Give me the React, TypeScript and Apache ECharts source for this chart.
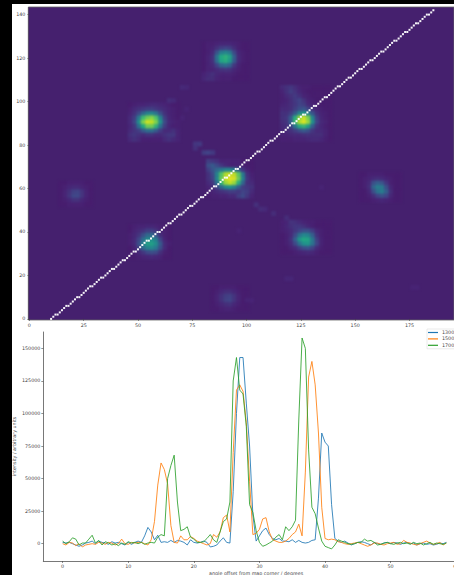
import React, { useEffect, useRef } from "react";
import * as echarts from "echarts";

// ---------- line chart data (thousands of arbitrary units) ----------
const angles = [0,0.5,1,1.5,2,2.5,3,3.5,4,4.5,5,5.5,6,6.5,7,7.5,8,8.5,9,9.5,10,10.5,11,11.5,12,12.5,13,13.5,14,14.5,15,15.5,16,16.5,17,17.5,18,18.5,19,19.5,20,20.5,21,21.5,22,22.5,23,23.5,24,24.5,25,25.5,26,26.5,27,27.5,28,28.5,29,29.5,30,30.5,31,31.5,32,32.5,33,33.5,34,34.5,35,35.5,36,36.5,37,37.5,38,38.5,39,39.5,40,40.5,41,41.5,42,42.5,43,43.5,44,44.5,45,45.5,46,46.5,47,47.5,48,48.5,49,49.5,50,50.5,51,51.5,52,52.5,53,53.5,54,54.5,55,55.5,56,56.5,57,57.5,58,58.5];
const series1300 = [1,0.5,1,0,-1,-2,-1,0.5,1,2,0,2,1,0.5,-0.5,1.5,0.5,1,0,-1,
  1,-0.5,1,2,1,6,12.5,9,3,6.5,1,1.5,1,2.5,1,2.5,2,1,-1,3,
  1,0.5,1,2,1,-2.5,-2,-1,2,4.5,1,0.5,40,100,143,143,108,75,22,2,
  6,10,12,7,4,3,4,2,2,1.5,3,1,2.5,1,0.5,1,2.5,3,35,85,
  78,75,30,4,2,1,2,0.5,-1,0,1,1.5,1,0,-1,1,0,-0.5,0.5,1,
  0,1,0.5,-0.5,0.5,1,0,0.5,-1,0,0.5,-0.5,0,-1,-0.5,0.5,0,1];
const series1500 = [0,-1,1,0.5,-1.5,0,-2.5,-1,-0.5,0,-0.5,1,0.5,-0.5,1,0.5,-1,0,3.5,0,
  -0.5,1,0.5,1,1,0,-1,3,17,45,62,57,46,14,1,0.5,6,3,3,5.5,
  4,2,1,0,-1,0,7,5,9,20,22,9,70,118,122,117,93,48,7,8,
  11,19,20,9,3,2,1,1,2,4,7,9,15,6,55,128,140,122,85,28,
  4,3,3.5,3,1.5,1,0,-0.5,0,0.5,1,0,-1,-2,-1,0.5,0.5,-0.5,-1,0,
  0.5,1,-0.5,0,2.5,1,0.5,-0.5,-1,0,1,2,0.5,-0.5,0,1,-1,0.5];
const series1700 = [2,0,1.5,4.5,3.5,-1,0.5,0.5,3.5,6.5,0.5,2.5,-1,1.5,0.5,-1,0,-1.5,0.5,-0.5,
  1.5,0.5,1,0,1,-0.5,0.5,1,0.5,5,7,6,50,60,68,32,10,11,13,5,
  3.5,1,1,1.5,4,7,3,1,9,17,19,32,125,143,118,115,90,30,24,10,
  1,-2,-1,0.5,2,5,7,3,13,10,13,18,95,158,150,72,28,23,12,2,
  -2,-3,-4,-1,3,2,1,0,-0.5,0,1,1,3.5,2,2.5,1,-1,-0.5,0.5,1,
  0,-0.5,0.5,1,0,0.5,-0.5,1,0,0.5,-1,0,1,-0.5,0.5,0,-0.5,0.5];
const seriesNames = ["1300G", "1500G", "1700G"];
const intensityTicks = [0, 25000, 50000, 75000, 100000, 125000, 150000];
const angleTicks = [0, 10, 20, 30, 40, 50, 60];

// ---------- map tick labels ----------
const mapXTicks = [0, 25, 50, 75, 100, 125, 150, 175];
const mapYTicks = [0, 20, 40, 60, 80, 100, 120, 140];

// ---------- white path across the map: y for x = 10, 11, 12 ... ----------
const pathStartX = 10;
const pathY = [0,1,2,2,3,4,5,6,6,7,8,9,10,10,11,12,13,14,15,15,16,17,18,19,19,20,21,22,23,23,24,25,26,27,27,28,29,30,31,31,32,33,34,35,36,36,37,38,39,40,40,41,42,43,44,44,45,46,47,48,48,49,50,51,52,52,53,54,55,56,56,57,58,59,60,61,61,62,63,64,65,65,66,67,68,69,69,70,71,72,73,73,74,75,76,77,77,78,79,80,81,82,82,83,84,85,86,86,87,88,89,90,90,91,92,93,94,94,95,96,97,98,98,99,100,101,102,102,103,104,105,106,107,107,108,109,110,111,111,112,113,114,115,115,116,117,118,119,119,120,121,122,123,123,124,125,126,127,128,128,129,130,131,132,132,133,134,135,136,136,137,138,139,140,140,141,142];

// ---------- map intensity patches: rows run top to bottom, each cell is 2x2 map units ----------
const peakD = [
  [18,16,14,10,10,10,10,10,8,8,8],
  [24,28,22,16,12,10,10,10,9,8,8],
  [18,26,34,40,46,46,42,30,16,10,8],
  [14,22,44,72,88,92,90,74,40,14,9],
  [14,20,46,76,92,96,94,78,44,16,10],
  [12,16,36,64,84,90,84,62,32,14,12],
  [10,12,20,34,46,50,44,30,18,16,14],
  [9,10,12,14,16,18,18,16,20,18,12],
  [8,9,9,10,10,12,12,18,22,16,10],
];
const peakB = [
  [8,9,10,10,11,12,12,11,10,9,8,8],
  [9,12,14,16,18,18,16,14,12,10,9,8],
  [10,14,22,34,44,46,38,24,14,10,9,8],
  [12,18,40,68,78,82,72,44,18,11,9,8],
  [12,20,48,80,92,90,80,52,22,12,10,9],
  [11,16,36,60,78,78,64,38,18,11,9,9],
  [12,15,18,28,36,36,28,18,12,12,14,10],
  [14,16,14,12,14,14,12,12,14,16,16,10],
  [12,14,12,9,9,9,9,9,12,14,12,10],
];
const peakC = [
  [12,14,16,13,10,9,9,8,8,8,8,8],
  [10,14,18,15,11,9,8,8,8,8,8,8],
  [9,12,14,17,14,10,9,8,8,8,8,8],
  [9,10,13,17,20,15,10,9,8,8,8,8],
  [10,11,13,16,20,18,12,10,9,8,8,8],
  [12,12,13,18,24,26,20,14,10,9,8,8],
  [14,14,18,28,46,52,44,26,14,10,9,8],
  [14,16,28,62,84,92,80,46,18,11,9,8],
  [13,15,30,68,88,94,84,50,20,12,10,8],
  [12,14,20,40,62,66,56,30,15,11,9,8],
  [11,12,14,18,24,28,24,16,12,12,10,8],
  [10,10,11,12,12,13,14,13,13,13,10,8],
  [9,9,9,10,10,10,11,12,12,11,9,8],
];
const peakA = [
  [8,9,9,10,11,11,11,10,9,8,8],
  [8,9,10,14,18,20,18,13,9,8,8],
  [8,9,12,26,42,46,40,22,11,9,8],
  [8,10,14,38,60,64,56,30,12,9,8],
  [8,10,14,36,58,62,52,28,12,9,8],
  [8,10,12,20,32,36,30,16,10,8,8],
  [8,10,10,12,14,15,14,11,9,8,8],
  [10,12,14,11,10,10,10,9,8,8,8],
  [11,13,13,10,9,9,9,8,8,8,8],
];
const peakE = [
  [8,9,10,10,11,11,10,9,8,8],
  [8,10,12,14,18,18,15,10,9,8],
  [9,11,15,24,34,34,26,13,9,8],
  [9,12,20,36,48,50,42,20,10,8],
  [9,12,24,44,56,56,48,28,12,9],
  [8,10,18,34,44,46,40,24,12,8],
  [8,9,11,16,22,24,22,14,9,8],
  [8,8,9,10,11,12,11,10,8,8],
];
const peakF = [
  [9,10,12,14,12,10,9,9,8,8,8,8],
  [9,11,14,16,16,14,11,9,8,8,8,8],
  [9,10,12,16,20,24,24,18,11,9,8,8],
  [8,9,12,22,38,46,44,30,14,9,8,8],
  [8,9,14,30,52,60,58,40,18,10,8,8],
  [8,9,12,22,38,50,52,38,20,10,8,8],
  [8,8,10,12,18,24,26,20,12,9,8,8],
  [8,8,8,9,10,11,12,11,9,8,8,8],
];
const peakG = [
  [8,8,9,9,9,9,8,8,8,8],
  [8,9,10,12,13,12,10,9,8,8],
  [8,9,12,24,30,26,16,9,8,8],
  [8,9,13,32,42,40,24,11,8,8],
  [8,8,11,24,38,42,30,13,8,8],
  [8,8,9,13,20,24,20,11,8,8],
  [8,8,8,9,10,11,10,9,8,8],
];
const peakH = [
  [8,8,9,9,9,9,8,8],
  [8,9,11,12,12,10,9,8],
  [8,10,14,19,20,15,10,8],
  [8,10,15,21,21,15,10,8],
  [8,9,11,14,14,11,9,8],
  [8,8,9,9,9,9,8,8],
];
const peakI = [
  [8,8,9,9,9,9,8,8,8],
  [8,9,11,13,13,11,9,8,8],
  [8,10,14,18,19,15,10,8,8],
  [8,10,14,19,20,15,10,8,8],
  [8,9,11,13,14,11,9,8,8],
  [8,8,9,10,10,9,8,8,8],
];
// [left map x, top map y, patch]
const patches: [number, number, number[][]][] = [
  [82, 72, peakD], [46, 98, peakB], [116, 106, peakC], [80, 126, peakA],
  [46, 42, peakE], [116, 44, peakF], [152, 66, peakG], [14, 62, peakH], [84, 14, peakI],
];
// faint isolated cells: [map x, map y, level]
const faintCells = [
  [64,100,13],[66,100,12],[70,106,12],[72,106,11],[60,88,14],[62,88,15],[64,84,15],[66,84,13],
  [76,80,16],[78,80,17],[76,78,14],[80,76,18],[82,76,20],[84,76,17],[70,92,10],[72,96,10],
  [104,52,14],[106,50,13],[108,50,12],[112,48,13],[118,46,13],[120,44,15],[122,44,14],
  [120,18,11],[118,18,11],[100,8,10],[102,8,10],[176,14,10],[178,14,10],[96,40,10],[134,60,10],
];
const viridis = ["#440154","#482475","#414487","#355f8d","#2a788e","#21918c","#22a884","#44bf70","#7ad151","#bddf26","#fde725"];

function buildCells() {
  const m = new Map<string, number>();
  const put = (cx: number, cy: number, v: number) => {
    const k = cx + "," + cy;
    m.set(k, Math.max(m.get(k) ?? 0, v));
  };
  patches.forEach(([x, y, rows]) =>
    rows.forEach((r, j) => r.forEach((v, i) => put(x / 2 + i, y / 2 - j, v))));
  faintCells.forEach(([x, y, v]) => put(x / 2, y / 2, v));
  return [...m.entries()].map(([k, v]) => {
    const [a, b] = k.split(",").map(Number);
    return [a, b, v];
  });
}

const FONT = 4.8;
const tickLine = { color: "#444", width: 0.6 };
const labelText = { fontFamily: "DejaVu Sans", fontSize: FONT, color: "#444", margin: 3 };
const nameText = { fontFamily: "DejaVu Sans", fontSize: FONT, color: "#444" };
const MAP_LEFT = 28.3, MAP_TOP = 7, MAP_W = 425.7, MAP_H = 313;

export default function App() {
  const ref = useRef<HTMLDivElement>(null);
  const heatRef = useRef<HTMLDivElement>(null);
  useEffect(() => {
    document.body.style.margin = "0";
    document.body.style.background = "#000";
    const heat = echarts.init(heatRef.current!, undefined, { renderer: "svg" });
    const colsCat = Array.from({ length: 98 }, (_, i) => String(i));
    const rowsCat = Array.from({ length: 72 }, (_, i) => String(i));
    heat.setOption({
      animation: false,
      grid: { left: 0, top: 0, right: 0, bottom: 0, outerBoundsMode: "none" },
      visualMap: { show: false, seriesIndex: 0, dimension: 2, min: 0, max: 100, inRange: { color: viridis } },
      xAxis: { type: "category", data: colsCat, show: false },
      yAxis: { type: "category", data: rowsCat, show: false },
      series: [{ type: "heatmap", data: buildCells(), itemStyle: { borderWidth: 0 } }],
    });
    const chart = echarts.init(ref.current!, undefined, { renderer: "svg" });
    const pair = (ys: number[]) => ys.map((v, i) => [angles[i], v * 1000]);
    chart.setOption({
      animation: false,
      grid: [
        { left: MAP_LEFT, top: MAP_TOP, width: MAP_W, height: MAP_H, show: true, backgroundColor: "transparent", borderColor: "#666", borderWidth: 0.8, outerBoundsMode: "none" },
        { left: 43.3, top: 332, width: 425.7, height: 229, outerBoundsMode: "none" },
      ],
      xAxis: [
        { gridIndex: 0, type: "value", min: -0.5, max: 195.5, splitLine: { show: false }, axisLine: { show: false },
          axisTick: { show: true, length: 2, lineStyle: tickLine, customValues: mapXTicks },
          axisLabel: { ...labelText, customValues: mapXTicks } },
        { gridIndex: 1, type: "value", min: -2.95, max: 61.95, splitLine: { show: false },
          axisLine: { show: true, onZero: false, lineStyle: { color: "#555", width: 0.8 } },
          axisTick: { show: true, length: 2, lineStyle: tickLine, customValues: angleTicks },
          axisLabel: { ...labelText, customValues: angleTicks },
          name: "angle offset from map corner / degrees", nameLocation: "middle", nameGap: 10, nameMoveOverlap: false,
          nameTextStyle: nameText },
      ],
      yAxis: [
        { gridIndex: 0, type: "value", min: -0.5, max: 143.5, splitLine: { show: false }, axisLine: { show: false },
          axisTick: { show: true, length: 2, lineStyle: tickLine, customValues: mapYTicks },
          axisLabel: { ...labelText, customValues: mapYTicks } },
        { gridIndex: 1, type: "value", min: -13300, max: 162600, splitLine: { show: false },
          axisLine: { show: true, onZero: false, lineStyle: { color: "#555", width: 0.8 } },
          axisTick: { show: true, length: 2, lineStyle: tickLine, customValues: intensityTicks },
          axisLabel: { ...labelText, customValues: intensityTicks, formatter: (v: number) => String(v) },
          name: "intensity / arbitrary units", nameLocation: "middle", nameGap: 26, nameMoveOverlap: false,
          nameTextStyle: nameText },
      ],
      legend: {
        data: seriesNames, orient: "vertical", left: 427, top: 329, padding: [1, 20, 1, 1],
        itemWidth: 10, itemHeight: 1.2, itemGap: 1.4, icon: "rect",
        backgroundColor: "#fff", borderColor: "#ddd", borderWidth: 0.6,
        textStyle: { fontFamily: "DejaVu Sans", fontSize: FONT, color: "#444", padding: [0, 0, 0, -1] },
      },
      series: [
        { type: "scatter", xAxisIndex: 0, yAxisIndex: 0, symbol: "rect", symbolSize: 2, z: 5, silent: true,
          itemStyle: { color: "#fff", opacity: 0.95 },
          data: pathY.map((y, i) => [pathStartX + i, y]) },
        { name: seriesNames[0], type: "line", xAxisIndex: 1, yAxisIndex: 1, showSymbol: false, color: "#1f77b4", lineStyle: { width: 1, opacity: 0.85 }, data: pair(series1300) },
        { name: seriesNames[1], type: "line", xAxisIndex: 1, yAxisIndex: 1, showSymbol: false, color: "#ff7f0e", lineStyle: { width: 1, opacity: 0.85 }, data: pair(series1500) },
        { name: seriesNames[2], type: "line", xAxisIndex: 1, yAxisIndex: 1, showSymbol: false, color: "#2ca02c", lineStyle: { width: 1, opacity: 0.85 }, data: pair(series1700) },
      ],
    });
    return () => {
      chart.dispose();
      heat.dispose();
    };
  }, []);
  return (
    <div style={{ position: "relative", width: 454, height: 575, overflow: "hidden", background: "#000" }}>
      <div style={{ position: "absolute", left: 12, top: 4, width: 442, height: 571, background: "#fff" }} />
      <div style={{ position: "absolute", left: MAP_LEFT, top: MAP_TOP, width: MAP_W, height: MAP_H, overflow: "hidden", background: "#45206e" }}>
        <div ref={heatRef} style={{ width: MAP_W, height: MAP_H, filter: "blur(1.3px)" }} />
      </div>
      <div ref={ref} style={{ position: "absolute", left: 0, top: 0, width: 454, height: 575 }} />
    </div>
  );
}
